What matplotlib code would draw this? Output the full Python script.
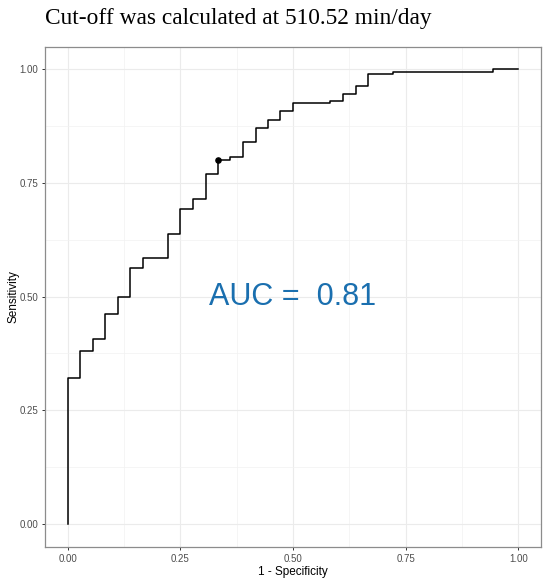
import matplotlib
matplotlib.use("Agg")
import matplotlib.pyplot as plt
from matplotlib.ticker import MultipleLocator

# ROC step curve (1 - specificity, sensitivity), steps-post
fpr = [0.0, 0.0, 0.028, 0.056, 0.083, 0.111, 0.139, 0.167, 0.222, 0.250,
       0.278, 0.306, 0.333, 0.361, 0.389, 0.417, 0.444, 0.472, 0.500,
       0.583, 0.611, 0.639, 0.667, 0.722, 0.944, 1.0]
tpr = [0.0, 0.32, 0.38, 0.406, 0.461, 0.50, 0.563, 0.585, 0.638, 0.692,
       0.714, 0.769, 0.80, 0.807, 0.84, 0.871, 0.888, 0.908, 0.925,
       0.93, 0.946, 0.963, 0.989, 0.995, 1.0, 1.0]
cutoff_point = (0.333, 0.80)
auc_value = 0.81
ticks = [0.0, 0.25, 0.5, 0.75, 1.0]
tick_labels = ["0.00", "0.25", "0.50", "0.75", "1.00"]
title = "Cut-off was calculated at 510.52 min/day"

W, H = 550, 581
fig = plt.figure(figsize=(W / 100, H / 100), dpi=100)
ax = fig.add_axes([45 / W, 1 - 546.7 / H, (541 - 45) / W, (546.7 - 46.6) / H])

ax.set_xlim(-0.05, 1.05)
ax.set_ylim(-0.05, 1.05)
ax.set_xticks(ticks)
ax.set_xticklabels(tick_labels)
ax.set_yticks(ticks)
ax.set_yticklabels(tick_labels)
ax.xaxis.set_minor_locator(MultipleLocator(0.125))
ax.yaxis.set_minor_locator(MultipleLocator(0.125))
ax.grid(which="major", color="#EBEBEB", lw=0.8)
ax.grid(which="minor", color="#F2F2F2", lw=0.5)
ax.set_axisbelow(True)
ax.tick_params(which="minor", length=0)
ax.tick_params(which="major", length=2.4, width=0.7, color="#333333",
               labelsize=7, labelcolor="#4D4D4D", pad=2.5)
for lab in ax.get_xticklabels() + ax.get_yticklabels():
    lab.set_family("Liberation Sans")
for s in ax.spines.values():
    s.set_color("#8C8C8C")
    s.set_linewidth(0.9)

ax.plot(fpr, tpr, drawstyle="steps-post", color="black", lw=1.1)
ax.scatter([cutoff_point[0]], [cutoff_point[1]], s=14, color="black", zorder=3)

ax.text(0.5, 0.5, f"AUC =  {auc_value:.2f}", color="#1A6FAF", fontsize=22,
        family="Liberation Sans", ha="center", va="center")

ax.set_xlabel("1 - Specificity", fontsize=8.5, family="Liberation Sans", labelpad=2)
ax.set_ylabel("Sensitivity", fontsize=8.5, family="Liberation Sans", labelpad=0)

fig.text(45 / W, 1 - 24 / H, title, family="Liberation Serif", fontsize=16.8,
         ha="left", va="baseline")

fig.savefig("out.png", dpi=100)
